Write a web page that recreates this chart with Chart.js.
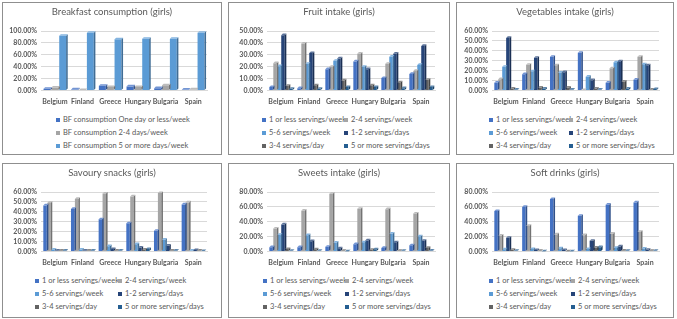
<!DOCTYPE html>
<html>
<head>
<meta charset="utf-8">
<script src="https://cdn.jsdelivr.net/npm/chart.js@4.4.1/dist/chart.umd.min.js"></script>
<style>
  body { margin: 0; background: #fff; width: 677px; height: 319px; overflow: hidden; font-family: Lato, "Open Sans", sans-serif; }
  .panel { position: absolute; box-sizing: border-box; border: 1px solid #8f8f8f; background: #fff; }
  .panel canvas { position: absolute; left: 0; top: 0; }
  .title { position: absolute; left: 0; right: 0; top: 3px; text-align: center; font-size: 9.5px; line-height: 12px; color: #595959; }
  .legend { position: absolute; left: 0; right: 0; font-size: 7.5px; color: #595959; }
  .legend .item { position: absolute; white-space: nowrap; height: 13px; line-height: 13px; }
  .legend .box { display: inline-block; width: 4px; height: 4px; margin-right: 3px; vertical-align: 0px; }
</style>
</head>
<body>
<div id="wrap"></div>
<script>
const countries = ['Belgium', 'Finland', 'Greece', 'Hungary', 'Bulgaria', 'Spain'];

const bfLabels = ['BF consumption One day or less/week', 'BF consumption 2-4 days/week', 'BF consumption 5 or more days/week'];
const servingLabels = ['1 or less servings/week', '2-4 servings/week', '5-6 servings/week', '1-2 servings/days', '3-4 servings/day', '5 or more servings/days'];

// Breakfast consumption (girls)
const bfOneOrLess = [3, 2, 8, 7, 4, 1.5];
const bfTwoToFour = [5, 1, 6, 6, 9, 2];
const bfFiveOrMore = [92, 97, 86, 87, 87, 97];

// Fruit intake (girls)
const fruitLessWeek = [3, 2, 18, 24.5, 10.5, 14];
const fruit24Week = [23, 39.5, 20, 31, 22.5, 16.5];
const fruit56Week = [20.5, 22.5, 25, 20, 28.5, 21.5];
const fruit12Day = [46.5, 31.5, 27, 18, 31, 37.5];
const fruit34Day = [4, 4.5, 8.5, 4.5, 7, 9];
const fruit5Day = [1.5, 1.5, 3, 3, 2, 3];

// Vegetables intake (girls)
const vegLessWeek = [8, 16.5, 34, 38, 8, 11];
const veg24Week = [11.5, 26, 25.5, 0.5, 22.5, 34];
const veg56Week = [24, 19.5, 18, 14, 28.5, 26.5];
const veg12Day = [53, 33, 18.5, 10.5, 29.5, 25.5];
const veg34Day = [2, 3, 3, 2, 9, 1];
const veg5Day = [1, 2, 1, 1, 2, 1.5];

// Savoury snacks (girls)
const snackLessWeek = [46.5, 43, 32.5, 28.5, 21, 47.5];
const snack24Week = [49, 53, 58.5, 55.5, 59, 49.5];
const snack56Week = [2, 2, 5.5, 7.5, 12, 1];
const snack12Day = [1, 1, 2.5, 4, 6, 1.5];
const snack34Day = [1, 1, 1, 2, 1, 1];
const snack5Day = [1, 1, 1, 2.5, 1, 0.5];

// Sweets intake (girls)
const sweetLessWeek = [6, 6, 6.5, 10, 5, 8.5];
const sweet24Week = [31, 55, 77.5, 57.5, 57, 51];
const sweet56Week = [22.5, 22, 12, 12.5, 24, 20.5];
const sweet12Day = [36.5, 14, 4.5, 15, 12.5, 14.5];
const sweet34Day = [3.5, 3, 1, 2.5, 1, 5];
const sweet5Day = [1, 1, 0.5, 3, 1, 1.5];

// Soft drinks (girls)
const softLessWeek = [54.5, 60, 70.5, 48, 63, 66];
const soft24Week = [21.5, 34.5, 23, 22, 24, 26.5];
const soft56Week = [3, 3.5, 4.5, 3.5, 5, 4];
const soft12Day = [18.5, 2, 2, 14.5, 7, 2.5];
const soft34Day = [2.5, 1, 0.5, 5.5, 1.5, 1];
const soft5Day = [1, 0.5, 0.5, 6, 1, 1];

const seriesColors = ['#4472C4', '#A5A5A5', '#5B9BD5', '#264478', '#636363', '#255E91'];
const FONT = 'Lato, "Open Sans", sans-serif';

function shade(hex, f) {
    const n = parseInt(hex.slice(1), 16);
    let r = (n >> 16) & 255, g = (n >> 8) & 255, b = n & 255;
    if (f < 0) { r *= 1 + f; g *= 1 + f; b *= 1 + f; }
    else { r += (255 - r) * f; g += (255 - g) * f; b += (255 - b) * f; }
    return 'rgb(' + Math.round(r) + ',' + Math.round(g) + ',' + Math.round(b) + ')';
}

// fake the excel 3d look: side and top faces on each bar
const bar3d = {
    id: 'bar3d',
    afterDatasetsDraw(chart) {
        const ctx = chart.ctx;
        const d = 1.6;
        chart.data.datasets.forEach((ds, i) => {
            const meta = chart.getDatasetMeta(i);
            meta.data.forEach(bar => {
                const p = bar.getProps(['x', 'y', 'base', 'width'], true);
                const l = p.x - p.width / 2, r = p.x + p.width / 2;
                ctx.save();
                ctx.fillStyle = shade(ds.backgroundColor, -0.3);
                ctx.beginPath();
                ctx.moveTo(r, p.y); ctx.lineTo(r + d, p.y - d); ctx.lineTo(r + d, p.base - d); ctx.lineTo(r, p.base);
                ctx.closePath(); ctx.fill();
                ctx.fillStyle = shade(ds.backgroundColor, 0.25);
                ctx.beginPath();
                ctx.moveTo(l, p.y); ctx.lineTo(l + d, p.y - d); ctx.lineTo(r + d, p.y - d); ctx.lineTo(r, p.y);
                ctx.closePath(); ctx.fill();
                ctx.restore();
            });
        });
    }
};

const panels = [
    { title: 'Breakfast consumption (girls)', labels: bfLabels, series: [bfOneOrLess, bfTwoToFour, bfFiveOrMore],
      max: 100, step: 20, x: 2, y: 2, w: 220, h: 153, axisW: 38, cols: [53] },
    { title: 'Fruit intake (girls)', labels: servingLabels, series: [fruitLessWeek, fruit24Week, fruit56Week, fruit12Day, fruit34Day, fruit5Day],
      max: 50, step: 10, x: 228, y: 2, w: 222, h: 153, axisW: 38, cols: [33, 115] },
    { title: 'Vegetables intake (girls)', labels: servingLabels, series: [vegLessWeek, veg24Week, veg56Week, veg12Day, veg34Day, veg5Day],
      max: 60, step: 10, x: 456, y: 2, w: 218, h: 153, axisW: 35, cols: [32, 112] },
    { title: 'Savoury snacks (girls)', labels: servingLabels, series: [snackLessWeek, snack24Week, snack56Week, snack12Day, snack34Day, snack5Day],
      max: 60, step: 10, x: 2, y: 163, w: 220, h: 155, axisW: 38, cols: [32, 115] },
    { title: 'Sweets intake (girls)', labels: servingLabels, series: [sweetLessWeek, sweet24Week, sweet56Week, sweet12Day, sweet34Day, sweet5Day],
      max: 80, step: 20, x: 228, y: 163, w: 222, h: 155, axisW: 38, cols: [34, 116] },
    { title: 'Soft drinks (girls)', labels: servingLabels, series: [softLessWeek, soft24Week, soft56Week, soft12Day, soft34Day, soft5Day],
      max: 80, step: 20, x: 456, y: 163, w: 218, h: 155, axisW: 35, cols: [32, 114] }
];

function buildLegend(panel, cfg) {
    const leg = document.createElement('div');
    leg.className = 'legend';
    leg.style.top = '110px';
    cfg.labels.forEach((label, i) => {
        const col = i % cfg.cols.length;
        const row = Math.floor(i / cfg.cols.length);
        const item = document.createElement('div');
        item.className = 'item';
        item.style.left = cfg.cols[col] + 'px';
        item.style.top = (row * 13) + 'px';
        item.innerHTML = '<span class="box" style="background:' + seriesColors[i] + '"></span>' + label;
        leg.appendChild(item);
    });
    panel.appendChild(leg);
}

function createPanel(cfg) {
    const panel = document.createElement('div');
    panel.className = 'panel';
    panel.style.left = cfg.x + 'px';
    panel.style.top = cfg.y + 'px';
    panel.style.width = cfg.w + 'px';
    panel.style.height = cfg.h + 'px';
    const canvas = document.createElement('canvas');
    const cw = cfg.w - 2;
    canvas.width = cw;
    canvas.height = 110;
    canvas.style.width = cw + 'px';
    canvas.style.height = '110px';
    panel.appendChild(canvas);
    const title = document.createElement('div');
    title.className = 'title';
    title.textContent = cfg.title;
    panel.appendChild(title);
    document.getElementById('wrap').appendChild(panel);
    buildLegend(panel, cfg);

    new Chart(canvas.getContext('2d'), {
        type: 'bar',
        data: {
            labels: countries,
            datasets: cfg.series.map((values, i) => ({
                label: cfg.labels[i],
                data: values,
                backgroundColor: seriesColors[i],
                categoryPercentage: 0.85,
                barPercentage: 0.88
            }))
        },
        plugins: [bar3d],
        options: {
            responsive: false,
            animation: false,
            devicePixelRatio: 1,
            layout: { padding: { left: 0, right: 14, top: 28, bottom: 0 } },
            plugins: {
                legend: { display: false },
                tooltip: { enabled: false },
                title: { display: false }
            },
            scales: {
                x: {
                    grid: { display: false, drawTicks: false },
                    border: { color: '#d9d9d9' },
                    ticks: {
                        color: '#595959', autoSkip: false, maxRotation: 0, padding: 7,
                        font: { family: FONT, size: 7, weight: 'bold' }
                    }
                },
                y: {
                    min: 0,
                    max: cfg.max,
                    grid: { color: '#d9d9d9', drawTicks: false },
                    border: { display: false },
                    afterFit: s => { s.width = cfg.axisW; },
                    ticks: {
                        stepSize: cfg.step, autoSkip: false, color: '#595959', padding: 4,
                        font: { family: FONT, size: 7, weight: 'bold' },
                        callback: v => v.toFixed(2) + '%'
                    }
                }
            }
        }
    });
}

panels.forEach(createPanel);
</script>
</body>
</html>
